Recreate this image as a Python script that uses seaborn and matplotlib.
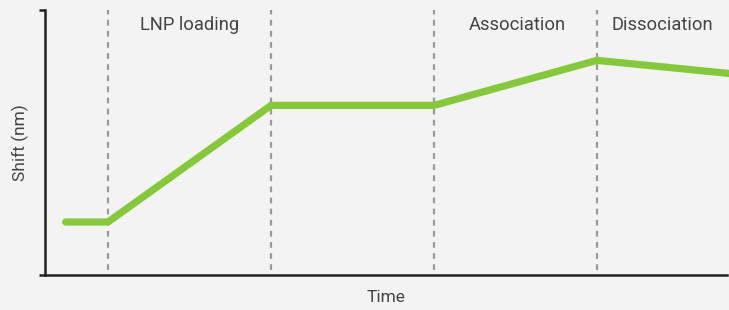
import matplotlib
matplotlib.use("Agg")
import matplotlib.pyplot as plt
import seaborn as sns
import pandas as pd

# Data
time = [0.74, 1.0, 2.0, 3.0, 4.0, 4.82]
shift = [20, 20, 64, 64, 81, 76]
phase_bounds = [1.0, 2.0, 3.0, 4.0]
phase_labels = ["LNP loading", "Association", "Dissociation"]
phase_label_x = [1.5, 3.51, 4.4]

sns.set_theme(style="white")
plt.rcParams["font.family"] = ["Roboto", "DejaVu Sans"]

bg = "#f3f3f3"
fig = plt.figure(figsize=(7.29, 3.10), dpi=100, facecolor=bg)
ax = fig.add_axes([45/729, 35/310, (727-45)/729, (275-10)/310])
ax.set_facecolor(bg)

df = pd.DataFrame({"Time": time, "Shift (nm)": shift})

for xb in phase_bounds:
    ax.axvline(xb, ymin=0.02, ymax=1.0, color="#9a9a9a", lw=1.6,
               linestyle=(0, (2.6, 2.4)), zorder=1)

sns.lineplot(data=df, x="Time", y="Shift (nm)", ax=ax, color="#86c83c",
             lw=5.2, zorder=3, solid_capstyle="round", solid_joinstyle="round",
             clip_on=False)

for lbl, xl in zip(phase_labels, phase_label_x):
    ax.text(xl, 94.5, lbl, ha="center", va="center", fontsize=13.2,
            color="#444444")

ax.set_xlim(1 - 63/163, 4 + 130/163)
ax.set_ylim(0, 100)
ax.set_xticks([])
ax.set_yticks([0, 100])
ax.set_yticklabels([])
ax.tick_params(axis="y", length=4, width=1.8, color="#222222", left=True)
for s in ["top", "right"]:
    ax.spines[s].set_visible(False)
for s in ["left", "bottom"]:
    ax.spines[s].set_color("#222222")
    ax.spines[s].set_linewidth(1.8)

ax.set_xlabel("Time", fontsize=12.5, color="#444444", labelpad=11)
ax.set_ylabel("Shift (nm)", fontsize=12.5, color="#444444", labelpad=4)

fig.savefig("out.png", dpi=100, facecolor=bg)
